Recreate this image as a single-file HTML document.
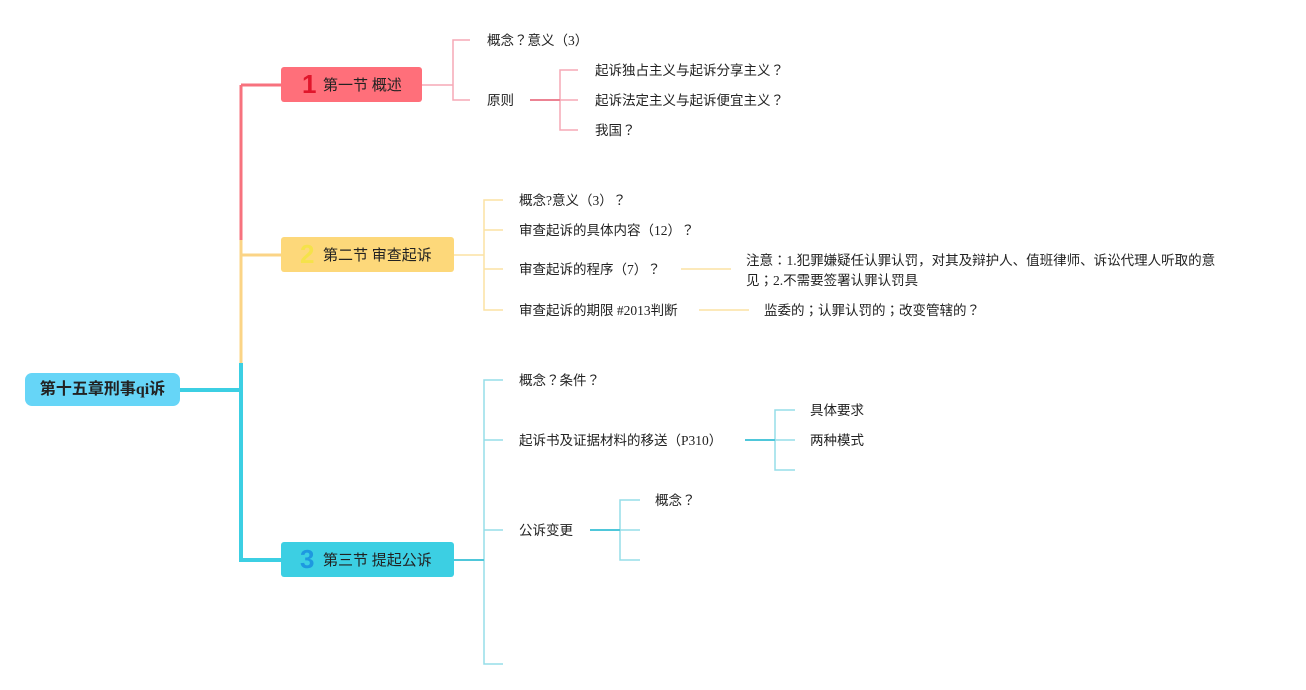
<!DOCTYPE html>
<html><head><meta charset="utf-8"><style>
html,body{margin:0;padding:0;background:#fff;width:1306px;height:690px;overflow:hidden;position:relative;font-family:"Liberation Serif","Noto Sans CJK JP",sans-serif;}
.t{position:absolute;font-size:13.5px;color:#222;white-space:nowrap;line-height:20px;}
.box{position:absolute;border-radius:3px;font-size:15px;color:#222;}
.num{position:absolute;font-weight:bold;font-size:26px;font-family:"Liberation Sans",sans-serif;}
svg{position:absolute;left:0;top:0}
</style></head><body>
<svg width="1306" height="690" fill="none">
<path d="M241 85 V240" stroke="#f7727e" stroke-width="3"/>
<path d="M241 85 H282" stroke="#f7727e" stroke-width="3"/>
<path d="M241 240 V363" stroke="#fbd486" stroke-width="3"/>
<path d="M241 255 H282" stroke="#fbd486" stroke-width="3"/>
<path d="M180 390 H241 V560 H282" stroke="#3ccfe3" stroke-width="4"/>
<path d="M241 363 V390" stroke="#3ccfe3" stroke-width="4"/>
<g stroke="#f6a9b5" stroke-width="1.5">
<path d="M422 85 H453"/><path d="M470 40 H453 V100 H470"/>
<path d="M578 70 H560 V130 H578"/><path d="M560 100 H578"/>
</g>
<path d="M530 100 H560" stroke="#ec8393" stroke-width="2"/>
<g stroke="#fbe2a4" stroke-width="1.5">
<path d="M454 255 H484"/><path d="M503 200 H484 V310 H503"/>
<path d="M484 230 H503"/><path d="M484 269 H503"/>
<path d="M681 269 H731"/><path d="M699 310 H749"/>
</g>
<g stroke="#95dde8" stroke-width="1.5">
<path d="M503 380 H484 V664 H503"/><path d="M484 440 H503"/><path d="M484 530 H503"/>
<path d="M795 410 H775 V470 H795"/><path d="M775 440 H795"/>
<path d="M640 500 H620 V560 H640"/><path d="M620 530 H640"/>
</g>
<path d="M454 560 H484" stroke="#4fc7da" stroke-width="2"/>
<path d="M745 440 H775" stroke="#4fc7da" stroke-width="2"/>
<path d="M590 530 H620" stroke="#4fc7da" stroke-width="2"/>
</svg>

<div class="box" style="left:25px;top:373px;width:155px;height:33px;background:#66d5f7;border-radius:7px;font-weight:bold;font-size:16px;line-height:33px;text-align:center;">第十五章刑事qi诉</div>

<div class="box" style="left:281px;top:67px;width:141px;height:35px;background:#ff6f7a;"></div>
<div class="num" style="left:302px;top:69px;color:#e0162b;">1</div>
<div class="t" style="left:323px;top:76px;font-size:15px;">第一节 概述</div>

<div class="box" style="left:281px;top:237px;width:173px;height:35px;background:#fdd87a;"></div>
<div class="num" style="left:300px;top:239px;color:#f5e24a;">2</div>
<div class="t" style="left:323px;top:246px;font-size:15px;">第二节 审查起诉</div>

<div class="box" style="left:281px;top:542px;width:173px;height:35px;background:#3ccfe3;"></div>
<div class="num" style="left:300px;top:544px;color:#1e98e0;">3</div>
<div class="t" style="left:323px;top:551px;font-size:15px;">第三节 提起公诉</div>

<div class="t" style="left:487px;top:31px;">概念？意义（3）</div>
<div class="t" style="left:487px;top:91px;">原则</div>
<div class="t" style="left:595px;top:61px;">起诉独占主义与起诉分享主义？</div>
<div class="t" style="left:595px;top:91px;">起诉法定主义与起诉便宜主义？</div>
<div class="t" style="left:595px;top:121px;">我国？</div>

<div class="t" style="left:519px;top:191px;">概念?意义（3）？</div>
<div class="t" style="left:519px;top:221px;">审查起诉的具体内容（12）？</div>
<div class="t" style="left:519px;top:260px;">审查起诉的程序（7）？</div>
<div class="t" style="left:519px;top:301px;">审查起诉的期限 #2013判断</div>
<div class="t" style="left:746px;top:251px;">注意：1.犯罪嫌疑任认罪认罚，对其及辩护人、值班律师、诉讼代理人听取的意<br>见；2.不需要签署认罪认罚具</div>
<div class="t" style="left:764px;top:301px;">监委的；认罪认罚的；改变管辖的？</div>

<div class="t" style="left:519px;top:371px;">概念？条件？</div>
<div class="t" style="left:519px;top:431px;">起诉书及证据材料的移送（P310）</div>
<div class="t" style="left:519px;top:521px;">公诉变更</div>
<div class="t" style="left:810px;top:401px;">具体要求</div>
<div class="t" style="left:810px;top:431px;">两种模式</div>
<div class="t" style="left:655px;top:491px;">概念？</div>
</body></html>
